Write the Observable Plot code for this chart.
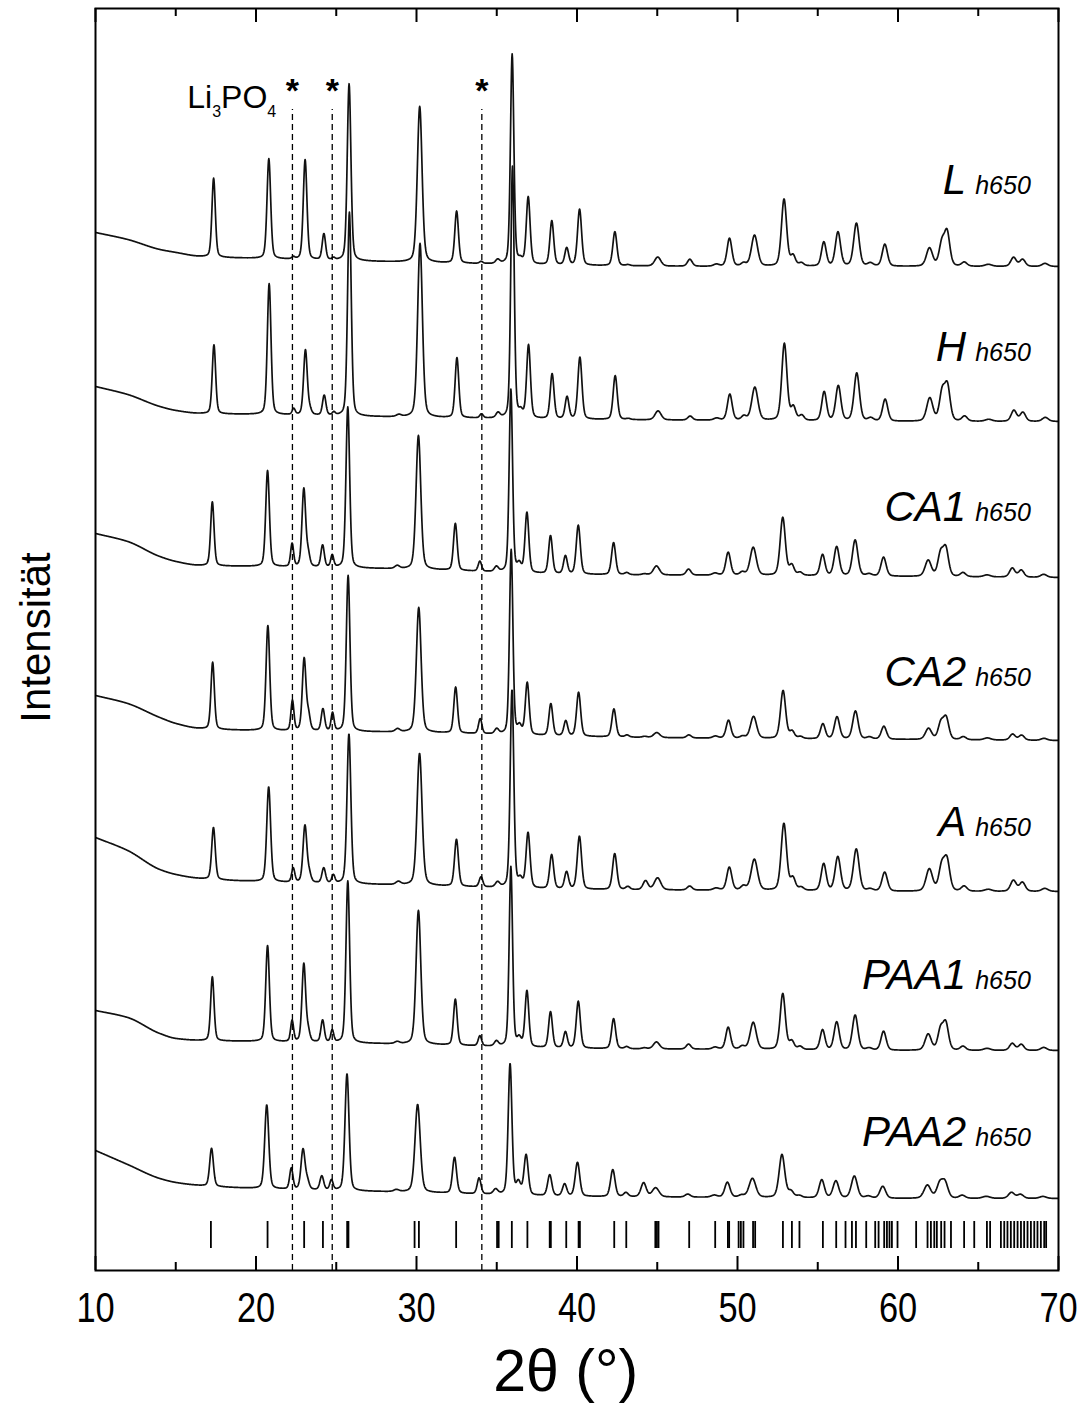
<!DOCTYPE html>
<html>
<head>
<meta charset="utf-8">
<script src="https://cdn.jsdelivr.net/npm/d3@7"></script>
<script src="https://cdn.jsdelivr.net/npm/@observablehq/plot@0.6"></script>
<style>
  html, body { margin: 0; padding: 0; background: #fff; }
  svg { display: block; }
</style>
</head>
<body>
<div id="chart"></div>
<script>
// ---------------------------------------------------------------------------
// Powder XRD patterns of seven samples after heat treatment (h650).
// Each pattern is described by its reflections (2θ position, FWHM, height in
// arbitrary units) on top of a slowly varying background.
// ---------------------------------------------------------------------------
const samples = ["L", "H", "CA1", "CA2", "A", "PAA1", "PAA2"];
const sampleSuffix = "h650";

// Reflection positions (2θ, °) and widths (FWHM, °) shared by all samples
const peakPos = [17.28, 20.72, 22.25, 22.98, 23.25, 24.15, 24.75, 25.72, 28.8, 30.12,
                 32.42, 33.95, 34.98, 35.88, 36.4, 36.88, 38.35, 39.28, 40.08, 42.28,
                 43.1, 44.2, 44.95, 46.95, 48.6, 49.42, 50.3, 50.98, 52.82, 53.38,
                 53.9, 55.3, 56.18, 57.33, 58.2, 59.1, 61.88, 62.65, 62.98, 64.05,
                 65.55, 67.12, 67.68, 69.08];
const peakFwhm = [0.25, 0.27, 0.22, 0.27, 0.25, 0.25, 0.22, 0.27, 0.35, 0.35,
                  0.27, 0.25, 0.30, 0.25, 0.30, 0.28, 0.28, 0.28, 0.30, 0.30,
                  0.30, 0.35, 0.45, 0.35, 0.40, 0.35, 0.35, 0.45, 0.38, 0.35,
                  0.35, 0.35, 0.38, 0.40, 0.40, 0.38, 0.45, 0.40, 0.40, 0.40,
                  0.50, 0.40, 0.40, 0.45];

// Peak heights per sample (a.u.), in the order of peakPos
const heightsL    = [79, 100,  2, 100,  0, 26,  2, 177, 0, 156, 52,  2, 4, 210,  4, 67, 44, 17, 56, 34, 1,  0,  9, 7, 2, 28, 3, 31, 67, 10, 3, 24, 34, 43, 3, 22, 18, 22, 33, 4, 2,  9, 7, 3];
const heightsH    = [69, 131,  6,  65,  5, 20,  3, 204, 2, 174, 60,  4, 5, 252,  6, 73, 45, 22, 62, 44, 1,  0,  9, 4, 2, 26, 4, 33, 77, 13, 5, 29, 35, 48, 3, 22, 23, 28, 34, 5, 2, 11, 9, 4];
const heightsCA1  = [64,  96, 23,  78, 12, 22, 12, 161, 3, 134, 47, 10, 5, 183,  8, 60, 38, 18, 49, 32, 2,  1,  9, 6, 2, 23, 3, 28, 58, 10, 3, 21, 29, 36, 2, 19, 16, 22, 27, 4, 2,  9, 7, 3];
const heightsCA2  = [67, 105, 30,  72, 15, 22, 18, 156, 3, 125, 46, 15, 5, 185,  8, 52, 32, 15, 44, 28, 2,  1,  5, 3, 2, 18, 2, 22, 48,  7, 2, 15, 22, 28, 2, 13, 11, 16, 21, 3, 2,  6, 5, 2];
const heightsA    = [52,  95, 14,  57,  8, 15,  8, 150, 3, 132, 47, 10, 5, 198,  8, 55, 34, 17, 53, 36, 3,  9, 12, 4, 2, 23, 4, 31, 67, 12, 3, 27, 34, 42, 2, 19, 22, 24, 30, 5, 2, 11, 9, 3];
const heightsPAA1 = [64,  96, 21,  78, 10, 22, 12, 162, 2, 134, 46, 10, 5, 180,  8, 56, 36, 16, 47, 30, 2,  1,  7, 5, 2, 22, 3, 27, 56,  8, 3, 20, 28, 35, 2, 19, 16, 20, 26, 4, 2,  7, 6, 3];
const heightsPAA2 = [38,  84, 21,  40,  8, 14, 10, 117, 2,  88, 36, 16, 5, 131, 12, 40, 21, 12, 34, 27, 4, 14,  9, 3, 2, 15, 2, 19, 43,  6, 2, 18, 17, 22, 2, 12, 13, 14, 15, 3, 2,  6, 4, 2];

// Zero shift of the 2θ scale (°) and peak broadening factor per sample
const zeroShift  = [0.08, 0.10, 0.00, 0.02, 0.07, 0.00, -0.05];
const widthScale = [1.00, 1.00, 1.00, 1.00, 1.05, 1.00, 1.10];

// Background level (a.u., stacked) at these 2θ values, per sample
const bgAngles = [10, 12, 14, 15, 16.5, 20, 30, 40, 50, 60, 70];
const bgL    = [1038, 1031, 1021, 1018, 1014, 1012, 1008, 1005, 1004, 1004, 1004];
const bgH    = [ 884,  876,  864,  860,  857,  856,  853,  851,  850,  849,  849];
const bgCA1  = [ 737,  729,  714,  709,  705,  704,  701,  696,  695,  694,  693];
const bgCA2  = [ 575,  567,  553,  547,  542,  540,  538,  534,  532,  531,  530];
const bgA    = [ 433,  420,  401,  396,  392,  389,  385,  381,  380,  379,  379];
const bgPAA1 = [ 260,  253,  237,  232,  230,  229,  226,  222,  221,  220,  220];
const bgPAA2 = [ 120,  106,   92,   88,   85,   82,   78,   74,   73,   72,   72];

// Reference reflections of the main phase (2θ, °)
const refLines = [17.19, 20.72, 23.0, 24.17, 25.68, 25.76, 29.88, 30.15, 32.47, 35.02,
                  35.12, 35.94, 36.91, 38.3, 38.37, 39.33, 40.1, 40.18, 42.32, 43.07,
                  44.88, 44.98, 45.08, 46.99, 48.61, 49.4, 49.48, 50.07, 50.21, 50.37,
                  50.97, 51.1, 52.83, 53.39, 53.86, 55.32, 56.15, 56.73, 57.13, 57.38,
                  58.02, 58.58, 58.79, 59.14, 59.31, 59.47, 59.62, 59.97, 61.13, 61.84,
                  62.05, 62.26, 62.42, 62.69, 62.9, 63.3, 64.12, 64.75, 65.54, 65.74,
                  66.41, 66.62, 66.82, 67.03, 67.24, 67.45, 67.66, 67.86, 68.07, 68.28,
                  68.49, 68.69, 68.9, 69.11, 69.23];

// Li3PO4 reflections marked with an asterisk (2θ, °)
const impurityLines = [22.27, 24.75, 34.07];

const xTicks = [10, 20, 30, 40, 50, 60, 70];
const xMinorTicks = [15, 25, 35, 45, 55, 65];

// ---------------------------------------------------------------------------
const heights = [heightsL, heightsH, heightsCA1, heightsCA2, heightsA, heightsPAA1, heightsPAA2];
const backgrounds = [bgL, bgH, bgCA1, bgCA2, bgA, bgPAA1, bgPAA2];

// smooth monotone (Fritsch–Carlson) curve through the background levels
function monotoneBackground(xs, ys) {
  const n = xs.length, dx = [], s = [], m = [];
  for (let i = 0; i < n - 1; i++) {
    dx[i] = xs[i + 1] - xs[i];
    s[i] = (ys[i + 1] - ys[i]) / dx[i];
  }
  m[0] = s[0];
  m[n - 1] = s[n - 2];
  for (let i = 1; i < n - 1; i++) {
    m[i] = s[i - 1] * s[i] <= 0 ? 0
      : 3 * (dx[i - 1] + dx[i]) / ((2 * dx[i] + dx[i - 1]) / s[i - 1] + (dx[i] + 2 * dx[i - 1]) / s[i]);
  }
  return (t) => {
    let i = d3.bisectRight(xs, t) - 1;
    i = Math.max(0, Math.min(n - 2, i));
    const h = dx[i], u = (t - xs[i]) / h;
    const h00 = (1 + 2 * u) * (1 - u) ** 2, h10 = u * (1 - u) ** 2;
    const h01 = u * u * (3 - 2 * u), h11 = u * u * (u - 1);
    return h00 * ys[i] + h10 * h * m[i] + h01 * ys[i + 1] + h11 * h * m[i + 1];
  };
}

// pseudo-Voigt line shape: mixing of Lorentzian and Gaussian parts
const ETA = 0.3;
const STEP = 0.02;
const grid = d3.range(10, 70 + STEP / 2, STEP);

function pattern(i) {
  const h = heights[i];
  const bg = monotoneBackground(bgAngles, backgrounds[i]);
  return grid.map((t) => {
    let v = bg(t);
    for (let k = 0; k < peakPos.length; k++) {
      if (!h[k]) continue;
      const w = peakFwhm[k] * widthScale[i];
      const d = (t - peakPos[k] - zeroShift[i]) / w;
      const d2 = 4 * d * d;
      v += h[k] * (ETA / (1 + d2) + (1 - ETA) * Math.exp(-Math.LN2 * d2));
    }
    return {sample: samples[i], t, v};
  });
}
const rows = samples.flatMap((_, i) => pattern(i));

// label placement (baseline level above each pattern, a.u.)
const labelLevel = [1077, 910, 750, 585, 435, 282, 125];
const labels = samples.map((s, i) => ({s, y: labelLevel[i]}));

const SANS = "'Liberation Sans', Arial, Helvetica, sans-serif";

const chart = Plot.plot({
  width: 1085,
  height: 1405,
  marginLeft: 95,
  marginRight: 27,
  marginTop: 8,
  marginBottom: 135,
  x: {domain: [10, 70]},
  y: {domain: [0, 1262], axis: null},
  style: {fontFamily: SANS, color: "#000", background: "#fff", overflow: "visible"},
  marks: [
    // patterns
    Plot.lineY(rows, {x: "t", y: "v", z: "sample", stroke: "#111", strokeWidth: 1.7, clip: true}),
    // reference reflections
    Plot.ruleX(refLines, {y1: 22, y2: 49, stroke: "#000", strokeWidth: 1.8}),
    // Li3PO4 markers
    Plot.ruleX(impurityLines, {y1: 0, y2: 1161, stroke: "#000", strokeWidth: 1.3, strokeDasharray: "6,4"}),
    Plot.text(impurityLines, {x: (d) => d, y: () => 1169, text: () => "*", fontSize: 34, fontWeight: "bold", lineAnchor: "bottom", textAnchor: "middle"}),
    Plot.text(["Li3PO4"], {x: () => 15.72, y: () => 1163, text: (d) => d, fontSize: 32, lineAnchor: "bottom", textAnchor: "start"}),
    // sample labels
    Plot.text(labels, {x: () => 64.25, y: "y", text: "s", fontSize: 42, fontStyle: "italic", lineAnchor: "bottom", textAnchor: "end"}),
    Plot.text(labels, {x: () => 64.81, y: "y", text: () => sampleSuffix, fontSize: 25, fontStyle: "italic", lineAnchor: "bottom", textAnchor: "start"}),
    // inward ticks on bottom and top edges
    Plot.ruleX(xTicks, {y1: 0, y2: 14, stroke: "#000", strokeWidth: 2}),
    Plot.ruleX(xTicks, {y1: 1248, y2: 1262, stroke: "#000", strokeWidth: 2}),
    Plot.ruleX(xMinorTicks, {y1: 0, y2: 8, stroke: "#000", strokeWidth: 2}),
    Plot.ruleX(xMinorTicks, {y1: 1254, y2: 1262, stroke: "#000", strokeWidth: 2}),
    // x axis tick labels and title
    Plot.axisX({ticks: xTicks, tickSize: 0, tickPadding: 21, fontSize: 43, label: null, tickFormat: (d) => String(d)}),
    Plot.text(["2θ (°)"], {x: () => 39.3, y: () => -120, text: (d) => d, fontSize: 59, lineAnchor: "bottom", textAnchor: "middle"}),
    // y axis title
    Plot.text(["Intensität"], {x: () => 7.18, y: () => 633, text: (d) => d, fontSize: 42, rotate: -90, lineAnchor: "bottom", textAnchor: "middle"}),
    Plot.frame({stroke: "#000", strokeWidth: 2})
  ]
});

// subscripts in the Li3PO4 label
d3.select(chart).selectAll("text").each(function () {
  if (this.textContent === "Li3PO4") {
    this.innerHTML = 'Li<tspan font-size="16" dy="9">3</tspan><tspan dy="-9">PO</tspan><tspan font-size="16" dy="9">4</tspan>';
  }
});

// condensed tick numerals on the 2θ axis
d3.select(chart).selectAll('g[aria-label="x-axis tick label"] text').each(function () {
  const tr = this.getAttribute("transform") || "";
  this.setAttribute("transform", tr + " scale(0.8,1)");
});

document.getElementById("chart").append(chart);
</script>
</body>
</html>
